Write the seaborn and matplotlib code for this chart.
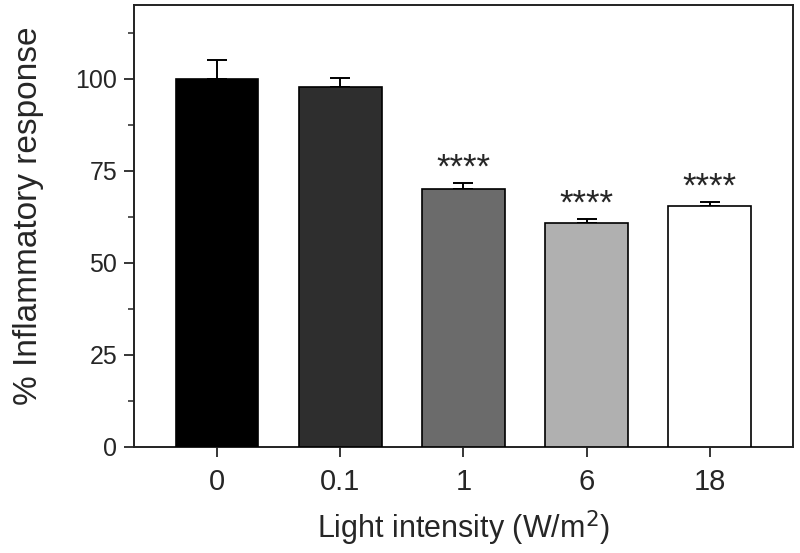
import numpy as np
import pandas as pd
import matplotlib
matplotlib.use("Agg")
import matplotlib.pyplot as plt
import seaborn as sns
from matplotlib.ticker import MultipleLocator

# values
intensity = ["0", "0.1", "1", "6", "18"]
response = [100.0, 97.8, 70.1, 60.7, 65.4]
sem = [5.0, 2.5, 1.6, 1.3, 1.2]
stars = ["", "", "****", "****", "****"]
bar_colors = ["#000000", "#2e2e2e", "#6b6b6b", "#b0b0b0", "#ffffff"]

df = pd.DataFrame({"intensity": intensity, "response": response})

sns.set_style("ticks")
plt.rcParams["font.family"] = ["Liberation Sans", "DejaVu Sans"]

fig = plt.figure(figsize=(8, 5.53), dpi=100)
ax = fig.add_axes([0.1675, 0.1917, 0.8235, 0.7993])

sns.barplot(data=df, x="intensity", y="response", hue="intensity",
            palette=bar_colors, order=intensity, hue_order=intensity,
            errorbar=None, width=0.67, edgecolor="black", linewidth=1.2,
            legend=False, ax=ax, zorder=3)

x = np.arange(len(intensity))
ax.errorbar(x, response, yerr=[np.zeros(len(sem)), sem], fmt="none",
            ecolor="black", elinewidth=1.4, capsize=7.5, capthick=1.4, zorder=2)

# significance marks just above the error bars
for xi, m, e, s in zip(x, response, sem, stars):
    if s:
        ax.text(xi, m + e - 0.6, s, ha="center", va="bottom", fontsize=25)

ax.set_xlim(-0.675, 4.675)
ax.set_ylim(0, 120)
ax.yaxis.set_major_locator(MultipleLocator(25))
ax.yaxis.set_minor_locator(MultipleLocator(12.5))
ax.set_yticks([0, 25, 50, 75, 100])

for sp in ax.spines.values():
    sp.set_linewidth(1.4)
    sp.set_color("#222222")

ax.tick_params(axis="both", which="major", length=7, width=1.3, pad=5)
ax.tick_params(axis="y", which="major", labelsize=18)
ax.tick_params(axis="y", which="minor", length=4, width=1.1)
ax.tick_params(axis="x", labelsize=21, pad=8)

ax.set_xlabel("Light intensity (W/m$^2$)", fontsize=22, labelpad=9)
ax.set_ylabel("% Inflammatory response", fontsize=24)
ax.yaxis.set_label_coords(-0.137, 0.523)

fig.savefig("out.png", dpi=100)
